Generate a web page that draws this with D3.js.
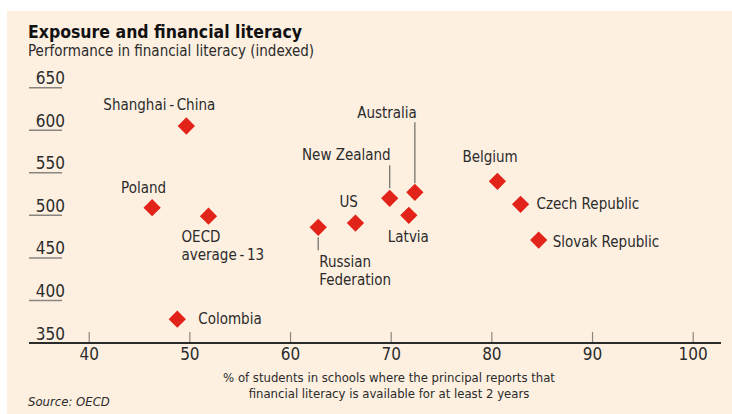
<!DOCTYPE html>
<html>
<head>
<meta charset="utf-8">
<script src="https://cdn.jsdelivr.net/npm/d3@7"></script>
<style>
  body { margin: 0; background: #fff; }
  svg text { font-family: "Liberation Sans Narrow", "DejaVu Sans Condensed", "Roboto", sans-serif; fill: #2b2b2b; }
</style>
</head>
<body>
<div id="container" style="width:732px;height:414px"></div>
<script>
const countries = ["Shanghai - China", "Poland", "OECD average - 13", "Russian Federation", "US",
    "New Zealand", "Australia", "Latvia", "Belgium", "Czech Republic", "Slovak Republic", "Colombia"];
const exposure = [49.7, 46.3, 51.9, 62.8, 66.5, 69.9, 72.4, 71.8, 80.6, 82.9, 84.7, 48.8];
const literacy = [605, 509, 499, 486, 491, 520, 527, 500, 540, 513, 471, 378];
const xTicks = [40, 50, 60, 70, 80, 90, 100];
const yTicks = [350, 400, 450, 500, 550, 600, 650];

// label placement: offset from marker, line breaks, optional leader line
const labelLayout = [
    { lines: ["Shanghai\u2009-\u2009China"], dx: -83, dy: -16 },
    { lines: ["Poland"], dx: -31, dy: -15 },
    { lines: ["OECD", "average\u2009-\u200913"], dx: -27, dy: 26 },
    { lines: ["Russian", "Federation"], dx: 1, dy: 40, leader: [10, 23] },
    { lines: ["US"], dx: -16, dy: -16 },
    { lines: ["New Zealand"], dx: 1, dy: -38, anchor: "end", leader: [-33, -10] },
    { lines: ["Australia"], dx: 2, dy: -74, anchor: "end", leader: [-70, -9] },
    { lines: ["Latvia"], dx: -21, dy: 27 },
    { lines: ["Belgium"], dx: -35, dy: -19 },
    { lines: ["Czech Republic"], dx: 16, dy: 5 },
    { lines: ["Slovak Republic"], dx: 14, dy: 7 },
    { lines: ["Colombia"], dx: 21, dy: 5 }
];

const width = 732, height = 414;

const svg = d3.select("#container")
    .append("svg")
    .attr("width", width)
    .attr("height", height);

svg.append("rect")
    .attr("x", 7).attr("y", 11)
    .attr("width", width - 7).attr("height", height - 11)
    .attr("fill", "#fdf0e1");

const x = d3.scaleLinear().domain([40, 100]).range([88.7, 692.7]);
const y = d3.scaleLinear().domain([350, 650]).range([343, 87.7]);

// titles
svg.append("text")
    .attr("x", 28).attr("y", 38)
    .style("font-size", "17.5px").style("font-weight", "bold")
    .style("fill", "#111")
    .text("Exposure and financial literacy");

svg.append("text")
    .attr("x", 28).attr("y", 56)
    .style("font-size", "15px")
    .text("Performance in financial literacy (indexed)");

// y ticks as underlined labels
const yg = svg.append("g");
yTicks.filter(d => d > 350).forEach(t => {
    yg.append("line")
        .attr("x1", 29).attr("x2", 62)
        .attr("y1", y(t)).attr("y2", y(t))
        .attr("stroke", "#8a8580").attr("stroke-width", 1.5);
});
yg.selectAll("text")
    .data(yTicks)
    .join("text")
    .attr("x", 65)
    .attr("y", d => y(d) - 3.5)
    .attr("text-anchor", "end")
    .style("font-size", "17px")
    .text(d => d);

// x axis
const xAxis = d3.axisBottom(x)
    .tickValues(xTicks)
    .tickSize(-11)
    .tickPadding(6);

const xg = svg.append("g")
    .attr("transform", `translate(0,${y(350)})`)
    .call(xAxis);
xg.select(".domain").remove();
xg.selectAll(".tick line").attr("stroke", "#8a8580").attr("stroke-width", 1.2);
xg.selectAll(".tick text")
    .attr("y", 17)
    .attr("dy", 0)
    .style("font-size", "17px")
    .style("font-family", null)
    .attr("fill", null);

svg.append("line")
    .attr("x1", 29).attr("x2", 721)
    .attr("y1", y(350)).attr("y2", y(350))
    .attr("stroke", "#2b2b2b").attr("stroke-width", 1.8);

// x axis title
const xt = svg.append("text")
    .attr("text-anchor", "middle")
    .style("font-size", "13px");
xt.append("tspan").attr("x", 389).attr("y", 382)
    .text("% of students in schools where the principal reports that");
xt.append("tspan").attr("x", 389).attr("y", 398)
    .text("financial literacy is available for at least 2 years");

svg.append("text")
    .attr("x", 28).attr("y", 406)
    .style("font-size", "13px").style("font-style", "italic")
    .text("Source: OECD");

// points
const points = countries.map((c, i) => ({
    name: c, px: x(exposure[i]), py: y(literacy[i]), lab: labelLayout[i]
}));

svg.append("g").selectAll("line")
    .data(points.filter(d => d.lab.leader))
    .join("line")
    .attr("x1", d => d.px).attr("x2", d => d.px)
    .attr("y1", d => d.py + d.lab.leader[0])
    .attr("y2", d => d.py + d.lab.leader[1])
    .attr("stroke", "#77726d").attr("stroke-width", 1.3);

svg.append("g").selectAll("path")
    .data(points)
    .join("path")
    .attr("transform", d => `translate(${d.px},${d.py})`)
    .attr("d", d3.symbol(d3.symbolDiamond2, 190))
    .attr("fill", "#e2231a");

const labels = svg.append("g").selectAll("text")
    .data(points)
    .join("text")
    .attr("text-anchor", d => d.lab.anchor || "start")
    .style("font-size", "15px");

labels.each(function(d) {
    const t = d3.select(this);
    d.lab.lines.forEach((line, k) => {
        t.append("tspan")
            .attr("x", d.px + d.lab.dx)
            .attr("y", d.py + d.lab.dy + k * 18)
            .text(line);
    });
});
</script>
</body>
</html>
